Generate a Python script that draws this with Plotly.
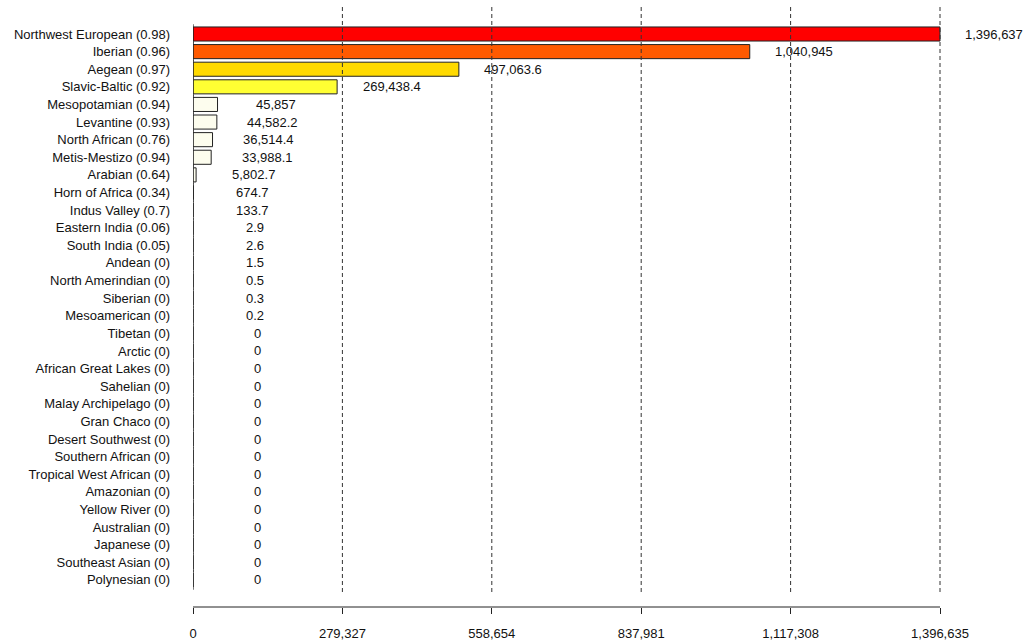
import plotly.graph_objects as go

categories = [
    "Northwest European (0.98)", "Iberian (0.96)", "Aegean (0.97)", "Slavic-Baltic (0.92)",
    "Mesopotamian (0.94)", "Levantine (0.93)", "North African (0.76)", "Metis-Mestizo (0.94)",
    "Arabian (0.64)", "Horn of Africa (0.34)", "Indus Valley (0.7)", "Eastern India (0.06)",
    "South India (0.05)", "Andean (0)", "North Amerindian (0)", "Siberian (0)",
    "Mesoamerican (0)", "Tibetan (0)", "Arctic (0)", "African Great Lakes (0)",
    "Sahelian (0)", "Malay Archipelago (0)", "Gran Chaco (0)", "Desert Southwest (0)",
    "Southern African (0)", "Tropical West African (0)", "Amazonian (0)", "Yellow River (0)",
    "Australian (0)", "Japanese (0)", "Southeast Asian (0)", "Polynesian (0)",
]
values = [
    1396637, 1040945, 497063.6, 269438.4,
    45857, 44582.2, 36514.4, 33988.1,
    5802.7, 674.7, 133.7, 2.9,
    2.6, 1.5, 0.5, 0.3,
    0.2, 0, 0, 0,
    0, 0, 0, 0,
    0, 0, 0, 0,
    0, 0, 0, 0,
]
tick_values = [0, 279327, 558654, 837981, 1117308, 1396635]
tick_labels = ["0", "279,327", "558,654", "837,981", "1,117,308", "1,396,635"]

top_colors = ["#FF0000", "#FF5A00", "#FFDA00", "#FFFF33"]
rest_color = "#FDFDEE"
colors = top_colors + [rest_color] * (len(values) - len(top_colors))

FONT = "Liberation Sans, Arial, sans-serif"
FS = 13


def fmt(v):
    s = f"{v:,.1f}"
    if s.endswith(".0"):
        s = s[:-2]
    return s


def text_w(s):
    # approximate rendered width (px) of a numeric label
    return sum((0.278 if ch in ",." else 0.556) * FS for ch in s)


fig = go.Figure()
fig.add_trace(go.Bar(
    x=values, y=categories, orientation="h",
    marker=dict(color=colors, line=dict(color="#222222", width=1)),
    showlegend=False, hoverinfo="x+y",
))
# bar baselines (left edges), visible even for zero-length bars
fig.add_trace(go.Scatter(
    x=[0] * len(values), y=categories, mode="markers",
    marker=dict(symbol="line-ns", size=14, line=dict(color="#222222", width=1.2)),
    showlegend=False, hoverinfo="skip",
))

for c, v in zip(categories, values):
    t = fmt(v)
    fig.add_annotation(x=v, y=c, text=t, showarrow=False,
                       xshift=66 - 0.2 * text_w(t),
                       xanchor="center", yanchor="middle",
                       font=dict(family=FONT, size=FS, color="#111111"))

# dashed grid lines at ticks (drawn above bars)
for tv in tick_values[1:]:
    fig.add_shape(type="line", xref="x", yref="y domain", x0=tv, x1=tv, y0=0, y1=1,
                  line=dict(color="#333333", width=1, dash="4px,3px"), layer="above")
# axis line spanning only the tick range
fig.add_shape(type="line", xref="x", yref="paper", x0=tick_values[0], x1=tick_values[-1],
              y0=0, y1=0, line=dict(color="#222222", width=1))

W, H = 1026, 643
left, right_px = 193, 940
scale = (tick_values[-1] - tick_values[0]) / (right_px - left)
xmax = (W - left) * scale

top_px, plot_bottom, axis_px = 5, 592, 607
row0, step = 34, 17.61
r_top = (top_px - row0) / step
r_bot = (plot_bottom - row0) / step

fig.update_layout(
    width=W, height=H,
    margin=dict(l=left, r=0, t=top_px, b=H - axis_px, pad=0),
    paper_bgcolor="white", plot_bgcolor="white",
    bargap=0.2,
    font=dict(family=FONT, size=FS, color="#111111"),
    xaxis=dict(range=[0, xmax], tickvals=tick_values, ticktext=tick_labels,
               showgrid=False, zeroline=False, showline=False,
               ticks="outside", ticklen=6, tickcolor="#222222", tickwidth=1,
               anchor="free", position=0, ticklabelstandoff=8,
               tickfont=dict(family=FONT, size=FS, color="#111111")),
    yaxis=dict(type="category", categoryorder="array", categoryarray=categories,
               range=[r_bot, r_top], domain=[(axis_px - plot_bottom) / (axis_px - top_px), 1],
               showgrid=False, zeroline=False, showline=False, ticks="",
               ticklabelstandoff=22,
               tickfont=dict(family=FONT, size=FS, color="#111111")),
)

fig.write_html("out.html",
               config={"displayModeBar": False},
               post_script="document.body.style.margin='0';document.body.style.overflow='hidden';")
